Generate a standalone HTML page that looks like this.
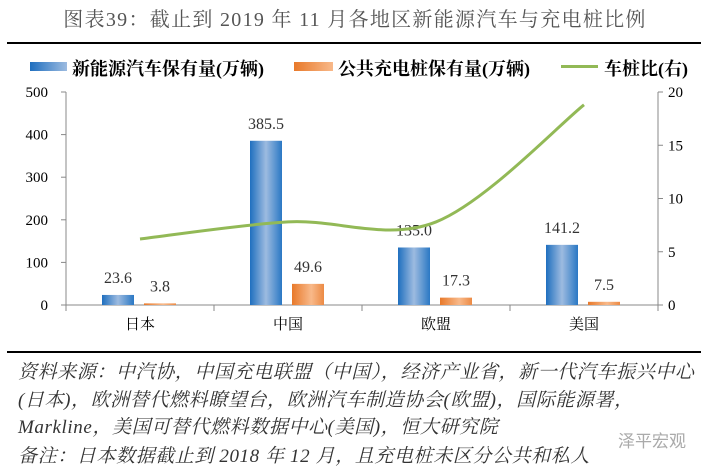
<!DOCTYPE html>
<html><head><meta charset="utf-8">
<style>
body{margin:0;background:#fff;width:710px;height:476px;overflow:hidden;position:relative;font-family:"Liberation Serif","Noto Serif CJK SC",serif;}
.abs{position:absolute;white-space:nowrap;}
.note{font-family:"Liberation Serif","Noto Serif CJK SC",serif;font-style:italic;font-size:19px;letter-spacing:0.6px;color:#333;left:18px;}
</style></head><body>
<div class="abs" style="left:0;width:710px;text-align:center;top:3px;font-size:20px;letter-spacing:1.3px;color:#555;font-family:'Liberation Serif','Noto Serif CJK SC',serif;">图表39：截止到 2019 年 11 月各地区新能源汽车与充电桩比例</div>
<div class="abs" style="left:7px;top:42px;width:694px;height:2px;background:#000;"></div>
<div class="abs" style="left:0;top:55px;height:22px;width:710px;font-weight:bold;font-size:18px;color:#000;">
 <div class="abs" style="left:30px;top:7px;width:37px;height:9px;background:linear-gradient(90deg,#1f6fbf,#9dbbe0);"></div>
 <div class="abs" style="left:72px;top:0;">新能源汽车保有量(万辆)</div>
 <div class="abs" style="left:294px;top:7px;width:39px;height:9px;background:linear-gradient(90deg,#e8792a,#f8b98a);"></div>
 <div class="abs" style="left:338px;top:0;">公共充电桩保有量(万辆)</div>
 <div class="abs" style="left:561px;top:10px;width:37px;height:3px;background:#92b956;"></div>
 <div class="abs" style="left:604px;top:0;">车桩比(右)</div>
</div>
<svg id="chart" class="abs" style="left:0;top:0" width="710" height="476"></svg>
<div class="abs" style="left:7px;top:351px;width:694px;height:2px;background:#000;"></div>
<div class="abs note" style="top:357px;">资料来源：中汽协，中国充电联盟（中国），经济产业省，新一代汽车振兴中心</div>
<div class="abs note" style="top:385px;">(日本)，欧洲替代燃料瞭望台，欧洲汽车制造协会(欧盟)，国际能源署，</div>
<div class="abs note" style="top:412px;">Markline，美国可替代燃料数据中心(美国)，恒大研究院</div>
<div class="abs note" style="top:441px;">备注：日本数据截止到 2018 年 12 月，且充电桩未区分公共和私人</div>
<div class="abs" style="left:618px;top:427px;font-size:17px;color:#aaa;font-family:'Noto Sans CJK SC',sans-serif;">泽平宏观</div>
<script>
const categories=["日本","中国","欧盟","美国"];
const nevValues=[23.6,385.5,135.0,141.2];
const chargerValues=[3.8,49.6,17.3,7.5];
const ratioValues=[6.2,7.8,7.8,18.8];
const leftTicks=[0,100,200,300,400,500];
const rightTicks=[0,5,10,15,20];
const svg=document.getElementById('chart');
const NS='http://www.w3.org/2000/svg';
const X0=66,X1=658,Y0=305,Y1=92;
const band=(X1-X0)/categories.length;
const cx=i=>X0+band*(i+0.5);
const yL=v=>Y0-(v/500)*(Y0-Y1);
const yR=v=>Y0-(v/20)*(Y0-Y1);
function mk(t,a){const e=document.createElementNS(NS,t);for(const k in a)e.setAttribute(k,a[k]);svg.appendChild(e);return e;}
svg.innerHTML='<defs><linearGradient id="gb" x1="0" x2="1"><stop offset="0" stop-color="#1f6fbf"/><stop offset="0.5" stop-color="#9dbbe0"/><stop offset="1" stop-color="#2a78c4"/></linearGradient><linearGradient id="go" x1="0" x2="1"><stop offset="0" stop-color="#e8792a"/><stop offset="0.6" stop-color="#f8b98a"/><stop offset="1" stop-color="#ec8a44"/></linearGradient></defs>';
let e;
e=mk('line',{x1:X0,y1:Y1,x2:X0,y2:Y0,stroke:'#888'});

e=mk('line',{x1:X1,y1:Y1,x2:X1,y2:Y0,stroke:'#888'});

e=mk('line',{x1:X0,y1:Y0,x2:X1,y2:Y0,stroke:'#888'});

leftTicks.forEach(v=>{const y=yL(v);
 mk('line',{x1:X0-5,y1:y,x2:X0,y2:y,stroke:'#888'});
 e=mk('text',{x:X0-18,y:y+5,'text-anchor':'end','font-size':15,fill:'#000'});e.textContent=v;
 });
rightTicks.forEach(v=>{const y=yR(v);
 mk('line',{x1:X1,y1:y,x2:X1+5,y2:y,stroke:'#888'});
 e=mk('text',{x:X1+10,y:y+5,'font-size':15,fill:'#000'});e.textContent=v;
 });
for(let i=0;i<=categories.length;i++){const x=X0+band*i;mk('line',{x1:x,y1:Y0,x2:x,y2:Y0+6,stroke:'#888'});}
categories.forEach((c,i)=>{
 e=mk('text',{x:cx(i),y:Y0+24,'text-anchor':'middle','font-size':15,fill:'#000'});e.textContent=c;
 
 const bw=32;
 let x=cx(i)-22-bw/2,y=yL(nevValues[i]);
 e=mk('rect',{x:x,y:y,width:bw,height:Y0-y,fill:'url(#gb)'});
 
 e=mk('text',{x:x+bw/2,y:y-12,'text-anchor':'middle','font-size':16,fill:'#333'});e.textContent=nevValues[i].toFixed(1);
 
 x=cx(i)+20-bw/2;y=yL(chargerValues[i]);
 e=mk('rect',{x:x,y:y,width:bw,height:Y0-y,fill:'url(#go)'});
 
 e=mk('text',{x:x+bw/2,y:y-12,'text-anchor':'middle','font-size':16,fill:'#333'});e.textContent=chargerValues[i].toFixed(1);
 
});
const P=ratioValues.map((v,i)=>[cx(i),yR(v)]);
let d='M'+P[0][0]+','+P[0][1];
for(let i=0;i<P.length-1;i++){
 const p0=P[Math.max(i-1,0)],p1=P[i],p2=P[i+1],p3=P[Math.min(i+2,P.length-1)];
 const c1=[p1[0]+(p2[0]-p0[0])/6,p1[1]+(p2[1]-p0[1])/6];
 const c2=[p2[0]-(p3[0]-p1[0])/6,p2[1]-(p3[1]-p1[1])/6];
 d+=' C'+c1+' '+c2+' '+p2;
}
e=mk('path',{d:d,fill:'none',stroke:'#92b956','stroke-width':3});

</script>
</body></html>
